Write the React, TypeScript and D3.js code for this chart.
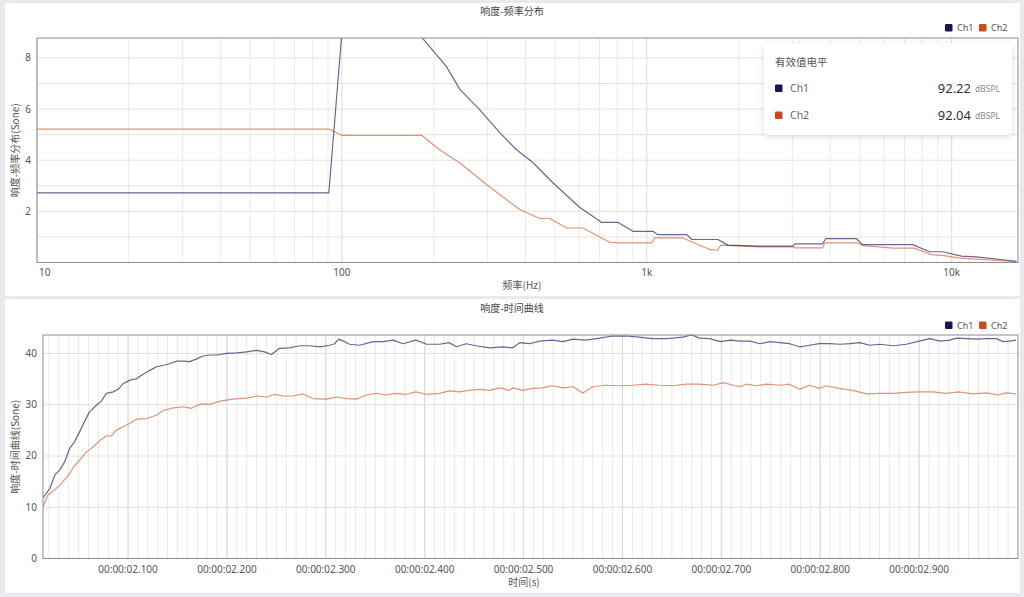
import React from "react";
import * as d3 from "d3";

// ---------- Data: loudness vs frequency ----------
const freqCh1 = [10, 90.6, 100, 125, 160, 183, 220, 244, 283, 330, 374, 423, 492, 603, 710, 803, 900, 1047, 1087, 1352, 1405, 1710, 1844, 2345, 3011, 3056, 3767, 3864, 4871, 5105, 7447, 8472, 9336, 10765, 12050, 16300];
const sonesCh1 = [2.72, 2.72, 9.0, 9.6, 9.4, 8.8, 7.67, 6.76, 5.98, 5.07, 4.41, 3.91, 3.12, 2.15, 1.57, 1.57, 1.22, 1.22, 1.09, 1.09, 0.9, 0.9, 0.68, 0.64, 0.64, 0.73, 0.73, 0.93, 0.93, 0.7, 0.7, 0.42, 0.42, 0.25, 0.22, 0.05];
const freqCh2 = [10, 90.6, 100, 183, 209, 244, 298, 383, 446, 481, 545, 617, 756, 815, 1036, 1063, 1312, 1610, 1706, 1750, 2345, 3011, 3056, 3767, 3837, 4895, 5150, 6410, 7540, 8580, 9450, 10470, 16300];
const sonesCh2 = [5.22, 5.22, 4.97, 4.97, 4.41, 3.89, 3.05, 2.07, 1.72, 1.72, 1.35, 1.35, 0.79, 0.77, 0.77, 0.96, 0.96, 0.51, 0.48, 0.68, 0.61, 0.61, 0.57, 0.57, 0.77, 0.77, 0.66, 0.56, 0.56, 0.31, 0.27, 0.18, 0.03];
const freqTicks = [10, 100, 1000, 10000];
const freqTickLabels = ["10", "100", "1k", "10k"];
const sonesTicksTop = [2, 4, 6, 8];

// ---------- Data: loudness vs time (ms after 00:00:02) ----------
const timeCh1 = [14, 21, 26, 31, 36, 41, 46, 51, 56, 61, 68, 73, 78, 85, 90, 95, 102, 109, 114, 119, 124, 129, 136, 142, 149, 156, 162, 169, 176, 183, 189, 200, 210, 220, 230, 238, 245, 253, 263, 274, 284, 294, 304, 309, 313, 319, 324, 334, 348, 358, 368, 378, 391, 402, 415, 425, 432, 442, 452, 466, 479, 489, 496, 506, 516, 529, 540, 550, 563, 577, 590, 604, 617, 630, 644, 651, 661, 670, 678, 688, 699, 709, 719, 729, 739, 749, 759, 769, 779, 789, 799, 809, 820, 830, 840, 850, 860, 874, 887, 900, 911, 921, 931, 938, 948, 958, 968, 978, 985, 991, 998];
const loudCh1 = [11.85, 13.7, 16.3, 17.3, 18.9, 21.5, 22.8, 24.7, 26.7, 28.6, 29.9, 30.7, 32.2, 32.5, 33.0, 34.1, 34.8, 35.1, 35.8, 36.4, 36.9, 37.4, 37.7, 38.0, 38.5, 38.5, 38.4, 38.9, 39.5, 39.7, 39.7, 40.0, 40.1, 40.3, 40.6, 40.3, 39.8, 41.0, 41.1, 41.5, 41.5, 41.3, 41.6, 41.9, 42.8, 42.3, 41.8, 41.6, 42.3, 42.3, 42.6, 41.9, 42.6, 41.8, 41.8, 42.1, 41.3, 41.9, 41.5, 41.1, 41.3, 41.1, 42.1, 41.9, 42.4, 42.6, 42.3, 42.8, 42.6, 43.0, 43.4, 43.4, 43.2, 42.9, 42.9, 43.0, 43.2, 43.6, 43.0, 42.9, 42.3, 42.6, 42.4, 42.4, 41.9, 42.3, 42.1, 41.9, 41.3, 41.6, 41.9, 41.9, 41.8, 41.9, 42.1, 41.6, 41.8, 41.5, 41.8, 42.4, 42.9, 42.4, 42.6, 43.0, 42.9, 42.8, 42.9, 42.9, 42.3, 42.4, 42.6];
const timeCh2 = [14, 19, 26, 33, 40, 45, 51, 58, 65, 72, 78, 83, 88, 95, 102, 109, 119, 129, 136, 146, 156, 164, 173, 183, 193, 206, 220, 230, 240, 248, 257, 267, 277, 287, 301, 311, 321, 331, 341, 351, 361, 371, 381, 391, 402, 415, 425, 435, 445, 455, 466, 476, 486, 489, 499, 509, 519, 529, 540, 550, 560, 570, 583, 597, 610, 624, 637, 651, 665, 678, 692, 702, 712, 719, 725, 736, 746, 759, 769, 779, 789, 799, 806, 819, 833, 847, 860, 874, 887, 900, 914, 927, 940, 954, 968, 980, 988, 998];
const loudCh2 = [10.1, 12.4, 13.4, 14.7, 16.3, 17.9, 19.2, 20.8, 21.8, 23.1, 23.9, 23.9, 25.0, 25.7, 26.4, 27.2, 27.3, 28.0, 28.9, 29.4, 29.6, 29.3, 30.1, 30.1, 30.7, 31.1, 31.3, 31.7, 31.5, 32.0, 31.7, 31.7, 32.1, 31.2, 31.1, 31.5, 31.2, 31.1, 31.9, 32.2, 31.9, 32.2, 32.0, 32.5, 32.0, 32.2, 32.7, 32.5, 32.8, 33.0, 32.8, 33.3, 32.8, 33.3, 32.8, 33.2, 33.3, 33.7, 33.3, 33.5, 32.3, 33.5, 33.8, 33.7, 33.8, 34.0, 33.8, 33.7, 34.0, 34.0, 33.8, 34.3, 33.8, 33.5, 34.0, 33.7, 34.0, 33.8, 34.0, 33.0, 33.8, 33.2, 33.7, 33.2, 32.8, 32.1, 32.2, 32.2, 32.4, 32.5, 32.5, 32.2, 32.5, 32.1, 32.3, 31.9, 32.3, 32.1];
const timeTicks = [2.1, 2.2, 2.3, 2.4, 2.5, 2.6, 2.7, 2.8, 2.9];
const loudTicks = [0, 10, 20, 30, 40];

// ---------- Legend / RMS level ----------
const channels = ["Ch1", "Ch2"];
const channelColors = ["#1c1259", "#cc4b1c"];
const rmsValues = ["92.22", "92.04"];
const rmsUnit = "dBSPL";

const CJK = "'Noto Sans CJK SC', 'Noto Sans', sans-serif";
const SANS = "'Noto Sans', 'Liberation Sans', sans-serif";

function Legend({ y }: { y: number }) {
  return (
    <g fontFamily={SANS} fontSize={9} fill="#555">
      {channels.map((c, i) => (
        <g key={c} transform={`translate(${945 + i * 34},${y})`}>
          <rect x={0} y={-7} width={7.5} height={7.5} rx={1.2} fill={channelColors[i]} />
          <text x={12} y={0}>{c}</text>
        </g>
      ))}
    </g>
  );
}

function TopChart() {
  const L = 37, R = 1018, T = 38, B = 262.5;
  const x = d3.scaleLog().domain([10, 16500]).range([L, R]);
  const y = d3.scaleLinear().domain([0, 8.78]).range([B, T]);
  const minor: number[] = [];
  [10, 100, 1000, 10000].forEach((d) => {
    for (let k = 2; k <= 9; k++) if (d * k < 16500) minor.push(d * k);
  });
  const line = d3.line<[number, number]>().x((d) => x(d[0])).y((d) => y(d[1]));
  const s1 = freqCh1.map((f, i) => [f, sonesCh1[i]] as [number, number]);
  const s2 = freqCh2.map((f, i) => [f, sonesCh2[i]] as [number, number]);
  const hLines = d3.range(1, 9);
  return (
    <g>
      <defs>
        <clipPath id="clipTop">
          <rect x={L} y={T} width={R - L} height={B - T} />
        </clipPath>
      </defs>
      <text x={512} y={15} textAnchor="middle" fontFamily={CJK} fontSize={10} fill="#444">响度-频率分布</text>
      <Legend y={31} />
      {minor.map((d) => (
        <line key={"m" + d} x1={x(d)} x2={x(d)} y1={T} y2={B} stroke="#ebebeb" strokeWidth={1} />
      ))}
      {freqTicks.map((d) => (
        <line key={"M" + d} x1={x(d)} x2={x(d)} y1={T} y2={B} stroke="#dcdcdc" strokeWidth={1} />
      ))}
      {hLines.map((d) => (
        <line key={"h" + d} x1={L} x2={R} y1={y(d)} y2={y(d)} stroke="#e3e3e3" strokeWidth={1} />
      ))}
      <g clipPath="url(#clipTop)" fill="none" strokeWidth={1.2} strokeLinejoin="round">
        <path d={line(s2) || ""} stroke={channelColors[1]} strokeOpacity={0.6} />
        <path d={line(s1) || ""} stroke={channelColors[0]} strokeOpacity={0.65} />
      </g>
      <rect x={L} y={T} width={R - L} height={B - T} fill="none" stroke="#8c8c8c" strokeWidth={1} />
      <g fontFamily={SANS} fontSize={10} fill="#555">
        {sonesTicksTop.map((d) => (
          <text key={d} x={L - 6} y={y(d) + 3.5} textAnchor="end">{d}</text>
        ))}
        {freqTicks.map((d, i) => (
          <text key={d} x={i === 0 ? x(d) + 2 : x(d)} y={276} textAnchor={i === 0 ? "start" : "middle"}>{freqTickLabels[i]}</text>
        ))}
      </g>
      <text x={522} y={289} textAnchor="middle" fontFamily={CJK} fontSize={10} fill="#555">频率(Hz)</text>
      <text transform={`translate(19,${(T + B) / 2}) rotate(-90)`} textAnchor="middle" fontFamily={CJK} fontSize={10} fill="#555">响度-频率分布(Sone)</text>
      {/* RMS level panel */}
      <g>
        <rect x={764} y={43} width={248} height={92} rx={4} fill="#fff" filter="url(#shadow)" />
        <text x={775} y={66} fontFamily={CJK} fontSize={10.5} fill="#555">有效值电平</text>
        {channels.map((c, i) => (
          <g key={c} transform={`translate(0,${i * 27})`}>
            <rect x={775} y={84.5} width={7.5} height={7.5} rx={1.2} fill={channelColors[i]} />
            <text x={790} y={92} fontFamily={SANS} fontSize={10.5} fill="#666">{c}</text>
            <text x={971} y={92.5} textAnchor="end" fontFamily={SANS} fontSize={13} fill="#333">{rmsValues[i]}</text>
            <text x={975} y={91.5} fontFamily={SANS} fontSize={8.5} fill="#888">{rmsUnit}</text>
          </g>
        ))}
      </g>
    </g>
  );
}

function fmtTime(t: number) {
  const ms = Math.round((t - 2) * 1000);
  return `00:00:02.${String(ms).padStart(3, "0")}`;
}

function BottomChart() {
  const L = 43, R = 1018, T = 335, B = 558.5;
  const x = d3.scaleLinear().domain([2.014, 3.0]).range([L, R]);
  const y = d3.scaleLinear().domain([0, 43.6]).range([B, T]);
  const minor = d3.range(202, 300).map((k) => k / 100).filter((t) => t > 2.014);
  const line = d3.line<[number, number]>().x((d) => x(d[0])).y((d) => y(d[1]));
  const s1 = timeCh1.map((t, i) => [2 + t / 1000, loudCh1[i]] as [number, number]);
  const s2 = timeCh2.map((t, i) => [2 + t / 1000, loudCh2[i]] as [number, number]);
  return (
    <g>
      <defs>
        <clipPath id="clipBot">
          <rect x={L} y={T - 1} width={R - L} height={B - T + 1} />
        </clipPath>
      </defs>
      <text x={512} y={312} textAnchor="middle" fontFamily={CJK} fontSize={10} fill="#444">响度-时间曲线</text>
      <Legend y={328.5} />
      {minor.map((d) => (
        <line key={"m" + d} x1={x(d)} x2={x(d)} y1={T} y2={B} stroke="#e9e9e9" strokeWidth={1} />
      ))}
      {timeTicks.map((d) => (
        <line key={"M" + d} x1={x(d)} x2={x(d)} y1={T} y2={B} stroke="#d8d8d8" strokeWidth={1} />
      ))}
      {loudTicks.filter((d) => d > 0).map((d) => (
        <line key={"h" + d} x1={L} x2={R} y1={y(d)} y2={y(d)} stroke="#e0e0e0" strokeWidth={1} />
      ))}
      <g clipPath="url(#clipBot)" fill="none" strokeWidth={1.2} strokeLinejoin="round">
        <path d={line(s2) || ""} stroke={channelColors[1]} strokeOpacity={0.6} />
        <path d={line(s1) || ""} stroke={channelColors[0]} strokeOpacity={0.65} />
      </g>
      <rect x={L} y={T} width={R - L} height={B - T} fill="none" stroke="#8c8c8c" strokeWidth={1} />
      <g fontFamily={SANS} fontSize={10} fill="#555">
        {loudTicks.map((d) => (
          <text key={d} x={L - 6} y={y(d) + 3.5} textAnchor="end">{d}</text>
        ))}
        {timeTicks.map((d) => (
          <text key={d} x={x(d)} y={573} textAnchor="middle">{fmtTime(d)}</text>
        ))}
      </g>
      <text x={524} y={586} textAnchor="middle" fontFamily={CJK} fontSize={10} fill="#555">时间(s)</text>
      <text transform={`translate(19,${(T + B) / 2}) rotate(-90)`} textAnchor="middle" fontFamily={CJK} fontSize={10} fill="#555">响度-时间曲线(Sone)</text>
    </g>
  );
}

export default function App() {
  return (
    <svg width={1024} height={597} viewBox="0 0 1024 597" style={{ position: "absolute", left: 0, top: 0, display: "block" }}>
      <defs>
        <filter id="shadow" x="-10%" y="-20%" width="120%" height="150%">
          <feDropShadow dx={0} dy={1.5} stdDeviation={3} floodColor="#000" floodOpacity={0.14} />
        </filter>
      </defs>
      <rect x={0} y={0} width={1024} height={597} fill="#e8eaee" />
      <rect x={5} y={3} width={1015} height={293} fill="#fff" />
      <rect x={5} y={299} width={1015} height={294} fill="#fff" />
      <TopChart />
      <BottomChart />
    </svg>
  );
}
